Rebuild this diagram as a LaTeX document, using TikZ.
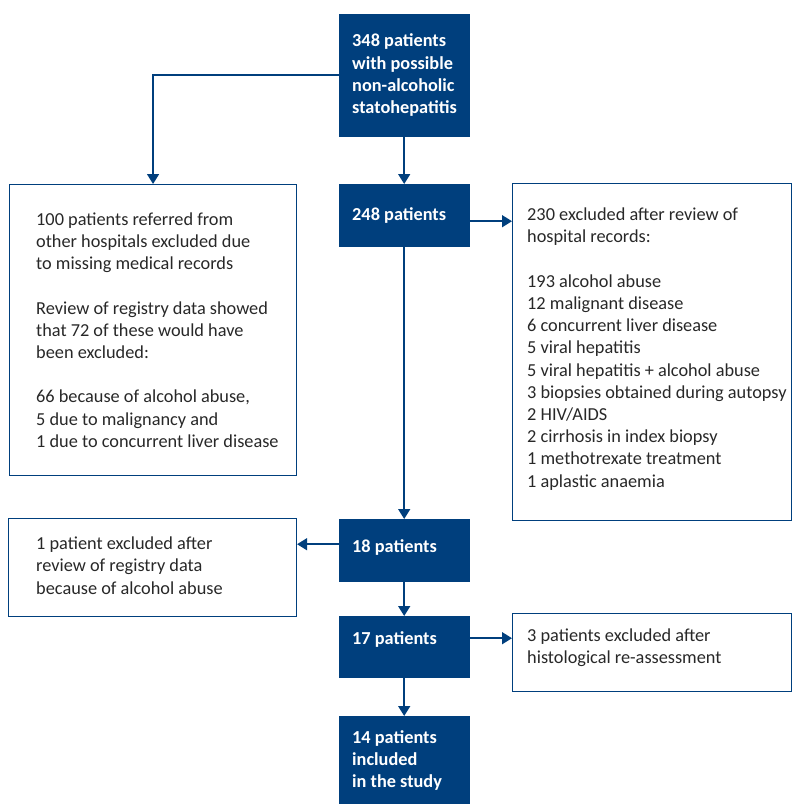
\documentclass[tikz,border=0pt]{standalone}
\usepackage{fontspec}
\setmainfont{Carlito}
\usetikzlibrary{positioning,arrows.meta}
\definecolor{navy}{RGB}{0,63,125}
\definecolor{ink}{RGB}{40,40,40}
\tikzset{
  darkbox/.style={fill=navy, draw=navy, inner sep=0pt, minimum width=130pt, anchor=north west},
  lightbox/.style={draw=navy, line width=1.1pt, fill=white, inner sep=0pt, anchor=north west},
  darktext/.style={text=white, font=\bfseries\fontsize{18.3}{22.2}\selectfont, align=left, inner sep=0pt},
  lighttext/.style={text=ink, font=\fontsize{18.3}{22.2}\selectfont, align=left, inner sep=0pt},
  flow/.style={draw=navy, line width=1.5pt, -{Triangle[width=12pt,length=10pt]}}
}
\begin{document}
\begin{tikzpicture}[x=1pt,y=-1pt]
    \useasboundingbox (0,0) rectangle (792,804);
    % main column
    \node[darkbox, minimum height=122pt] (n348) at (339,14) {};
    \node[darktext, right=13pt of n348.west] (t348) {348 patients\\with possible\\non-alcoholic\\statohepatitis};
    \node[darkbox, minimum height=62pt] (n248) at (339,184) {};
    \node[darktext, right=13pt of n248.west] (t248) {248 patients};
    \node[darkbox, minimum height=62pt] (n18) at (339,519) {};
    \node[darktext, right=13pt of n18.west, yshift=3pt] (t18) {18 patients};
    \node[darkbox, minimum height=61pt] (n17) at (339,616) {};
    \node[darktext, right=13pt of n17.west, yshift=7pt] (t17) {17 patients};
    \node[darkbox, minimum height=89pt] (n14) at (339,716) {};
    \node[darktext, right=13pt of n14.west] (t14) {14 patients\\included\\in the study};
    % exclusions
    \node[lightbox, minimum width=287pt, minimum height=291pt] (referred) at (9,184) {};
    \node[lighttext, right=27pt of referred.west] (treferred) {100 patients referred from\\other hospitals excluded due\\to missing medical records\\[22.2pt]Review of registry data showed\\that 72 of these would have\\been excluded:\\[22.2pt]66 because of alcohol abuse,\\5 due to malignancy and\\1 due to concurrent liver disease};
    \node[lightbox, minimum width=279pt, minimum height=337pt] (records) at (512,183) {};
    \node[lighttext, right=15pt of records.west, yshift=3pt] (trecords) {230 excluded after review of\\hospital records:\\[22.2pt]193 alcohol abuse\\12 malignant disease\\6 concurrent liver disease\\5 viral hepatitis\\5 viral hepatitis + alcohol abuse\\3 biopsies obtained during autopsy\\2 HIV/AIDS\\2 cirrhosis in index biopsy\\1 methotrexate treatment\\1 aplastic anaemia};
    \node[lightbox, minimum width=288pt, minimum height=98pt] (registry) at (8,518) {};
    \node[lighttext, right=28pt of registry.west, yshift=2pt] (tregistry) {1 patient excluded after\\review of registry data\\because of alcohol abuse};
    \node[lightbox, minimum width=279pt, minimum height=78pt] (histo) at (512,613) {};
    \node[lighttext, right=15pt of histo.west, yshift=4.5pt] (thisto) {3 patients excluded after\\histological re-assessment};
    % arrows
    \draw[flow] (n348.west) -| (referred.north);
    \draw[flow] (n348) -- (n248);
    \draw[flow] ([yshift=-6pt]n248.east) -- ([yshift=-6pt]n248.east -| records.west);
    \draw[flow] (n248) -- (n18);
    \draw[flow] ([yshift=6pt]n18.west) -- ([yshift=6pt]n18.west -| registry.east);
    \draw[flow] (n18) -- (n17);
    \draw[flow] ([yshift=8.5pt]n17.east) -- ([yshift=8.5pt]n17.east -| histo.west);
    \draw[flow] (n17) -- (n14);
\end{tikzpicture}
\end{document}
